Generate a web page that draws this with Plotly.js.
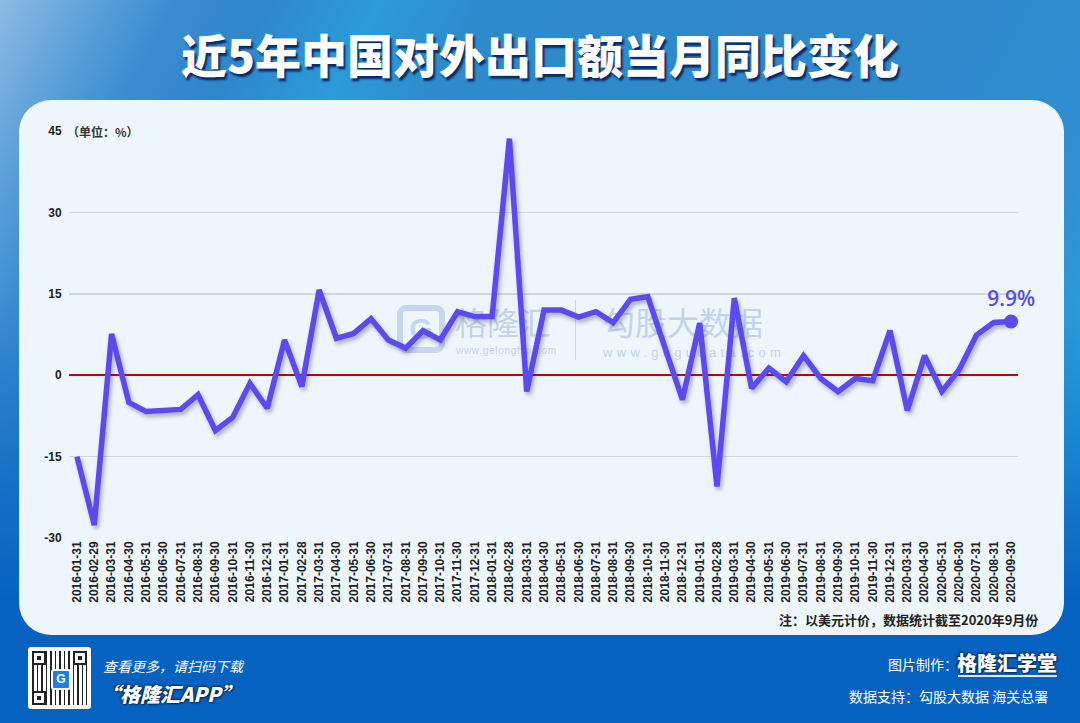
<!DOCTYPE html>
<html><head><meta charset="utf-8">
<script src="https://cdn.plot.ly/plotly-3.0.1.min.js"></script>
<style>
html,body{margin:0;padding:0;width:1080px;height:723px;overflow:hidden;}
#bg{position:absolute;left:0;top:0;width:1080px;height:723px;
 background:
  linear-gradient(180deg, rgba(6,98,192,0) 0px, rgba(6,98,192,0) 300px, #0662c0 600px),
  linear-gradient(118deg, #8dbbe2 0%, #5a9fd8 7%, #3a8dd0 12%, #2f86cb 18%, #2b9bda 26%, #2e8bcc 33%, #2f88ca 60%, #2f8fd0 80%, #28a8e2 90%, #2f90cf 100%);}
#panel{position:absolute;left:19px;top:100px;width:1045px;height:535px;background:#eef6fd;border-radius:32px;}
.wm{position:absolute;color:#c2d3ea;font-family:"Noto Sans CJK SC";white-space:nowrap;line-height:1;}
.ws{position:absolute;color:#c2d3ea;font-family:"Liberation Sans";white-space:nowrap;}
#wmG{position:absolute;left:397px;top:305px;width:36px;height:36px;border:6px solid #c6d6ec;border-radius:9px;color:#c6d6ec;font:bold 30px "Liberation Sans";text-align:center;line-height:36px;}
#plot{position:absolute;left:0;top:0;}
.ft{position:absolute;color:#fff;font-family:"Noto Sans CJK SC";white-space:nowrap;}
#qr{position:absolute;left:28px;top:647px;width:63px;height:62px;background:#fff;border-radius:3px;}
#qrin{position:absolute;left:4px;top:4px;width:55px;height:54px;
 background:
  repeating-linear-gradient(90deg,#222 0 2px,transparent 2px 5px,#222 5px 6px,transparent 6px 9px),
  repeating-linear-gradient(0deg,#fff 0 2px,transparent 2px 4px,#fff 4px 5px,transparent 5px 8px);}
.fd{position:absolute;width:10px;height:10px;border:2px solid #222;background:#fff;}
.fd::after{content:"";position:absolute;left:3px;top:3px;width:4px;height:4px;background:#222;}
#qrlogo{position:absolute;left:23px;top:22px;width:16px;height:17px;background:#1f7fe8;border:2px solid #fff;border-radius:3px;color:#fff;font:bold 12px "Liberation Sans";text-align:center;line-height:17px;}
.js-line{filter:drop-shadow(2px 3px 2px rgba(40,40,60,0.35));}
</style></head>
<body>
<div id="bg"></div>
<div id="panel"></div>
<div id="wmG">G</div>
<div class="wm" style="left:455px;top:305px;font-size:32px;">格隆汇</div>
<div class="ws" style="left:456px;top:345px;font-size:10px;letter-spacing:0.7px;">www.gelonghui.com</div>
<div style="position:absolute;left:575px;top:300px;width:1px;height:60px;background:#c6d6ec;"></div>
<div class="wm" style="left:603px;top:305px;font-size:32px;">勾股大数据</div>
<div class="ws" style="left:603px;top:345px;font-size:13px;letter-spacing:4.3px;">www.gugudata.com</div>
<div id="plot"></div>
<div id="qr"><div id="qrin"></div>
 <div class="fd" style="left:4px;top:4px"></div><div class="fd" style="left:45px;top:4px"></div><div class="fd" style="left:4px;top:44px"></div>
 <div id="qrlogo">G</div></div>
<div class="ft" style="left:103px;top:656px;font-size:14px;font-style:italic;">查看更多，请扫码下载</div>
<div class="ft" style="left:100px;top:679px;font-size:20px;font-style:italic;font-weight:900;text-shadow:0 0 2px #0b2a55,1px 1px 2px #0b2a55,-1px -1px 2px #0b2a55;">“格隆汇APP”</div>
<div class="ft" style="left:888px;top:654px;font-size:14px;">图片制作：</div>
<div class="ft" style="left:957px;top:648px;font-size:20px;font-weight:900;text-shadow:0 0 2px #0b2a55,1px 1px 2px #0b2a55,-1px -1px 2px #0b2a55;">格隆汇学堂</div>
<div style="position:absolute;left:958px;top:675px;width:99px;height:2px;background:#dfe8f4;"></div>
<div class="ft" style="left:849px;top:686px;font-size:14px;">数据支持：勾股大数据&nbsp;海关总署</div>
<script>
// Data
const months = [
 '2016-01-31','2016-02-29','2016-03-31','2016-04-30','2016-05-31','2016-06-30','2016-07-31','2016-08-31','2016-09-30','2016-10-31','2016-11-30','2016-12-31',
 '2017-01-31','2017-02-28','2017-03-31','2017-04-30','2017-05-31','2017-06-30','2017-07-31','2017-08-31','2017-09-30','2017-10-31','2017-11-30','2017-12-31',
 '2018-01-31','2018-02-28','2018-03-31','2018-04-30','2018-05-31','2018-06-30','2018-07-31','2018-08-31','2018-09-30','2018-10-31','2018-11-30','2018-12-31',
 '2019-01-31','2019-02-28','2019-03-31','2019-04-30','2019-05-31','2019-06-30','2019-07-31','2019-08-31','2019-09-30','2019-10-31','2019-11-30','2019-12-31',
 '2020-03-31','2020-04-30','2020-05-31','2020-06-30','2020-07-31','2020-08-31','2020-09-30'];
const exportYoY = [
 -15.0,-27.6,7.6,-5.0,-6.7,-6.6,-6.3,-3.6,-10.2,-7.8,-1.5,-6.1,
 6.5,-2.1,15.7,6.8,7.7,10.4,6.5,5.0,8.2,6.5,11.7,10.8,
 10.8,43.6,-3.0,12.0,12.0,10.7,11.7,9.7,14.0,14.5,5.2,-4.5,
 9.6,-20.5,14.2,-2.4,1.3,-1.2,3.6,-0.6,-3.0,-0.6,-1.0,8.2,
 -6.5,3.6,-3.0,1.0,7.4,9.7,9.9];
const yTicks = [-30,-15,0,15,30,45];

const purple = '#5a4bf0';
const lastX = months[months.length-1];
const lastY = exportYoY[exportYoY.length-1];

const traces = [
 {x: months, y: exportYoY, type:'scatter', mode:'lines', line:{color:purple, width:5.5}, hoverinfo:'x+y'},
 {x:[lastX], y:[lastY], type:'scatter', mode:'markers+text', marker:{color:purple, size:14},
  text:[lastY.toFixed(1)+'%'], textposition:'top center',
  textfont:{family:'Open Sans', size:21, color:purple, weight:600}, cliponaxis:false}
];

const layout = {
 width:1080, height:723,
 margin:{l:69, r:62, t:131, b:185},
 paper_bgcolor:'rgba(0,0,0,0)', plot_bgcolor:'rgba(0,0,0,0)',
 showlegend:false,
 title:{text:'近5年中国对外出口额当月同比变化', x:0.5, xanchor:'center', y:1-57/723, yanchor:'middle',
  font:{family:'Noto Sans CJK SC', size:46, color:'#ffffff', weight:900, shadow:'2px 3px 2px #0b2a66'}},
 xaxis:{type:'category', range:[-0.46, 54.4], tickangle:-90, showgrid:false, zeroline:false, showline:false,
  ticks:'', tickfont:{family:'Liberation Sans', size:12, color:'#222', weight:'bold'}, fixedrange:true},
 yaxis:{range:[-30,45], tickvals:yTicks, ticktext:yTicks.map(String), showgrid:true, gridcolor:'#d4d6d9', gridwidth:1.5,
  zeroline:true, zerolinecolor:'#c40000', zerolinewidth:2, showline:false, ticks:'outside', ticklen:4, tickcolor:'rgba(0,0,0,0)',
  tickfont:{family:'Liberation Sans', size:12, color:'#222', weight:'bold'}, fixedrange:true},
 annotations:[
  {text:'（单位：%）', xref:'paper', yref:'paper', x:-0.004, y:1, xanchor:'left', yanchor:'middle', showarrow:false,
   font:{family:'Noto Sans CJK SC', size:12, color:'#333', weight:'bold'}},
  {text:'注：以美元计价，数据统计截至2020年9月份', xref:'paper', yref:'paper', x:(1040-69)/(1018-69), y:-(619-538)/(538-131),
   xanchor:'right', yanchor:'middle', showarrow:false, font:{family:'Noto Sans CJK SC', size:13, color:'#222', weight:'bold'}}
 ]
};
Plotly.newPlot('plot', traces, layout, {displayModeBar:false, staticPlot:true});
</script>
</body></html>
